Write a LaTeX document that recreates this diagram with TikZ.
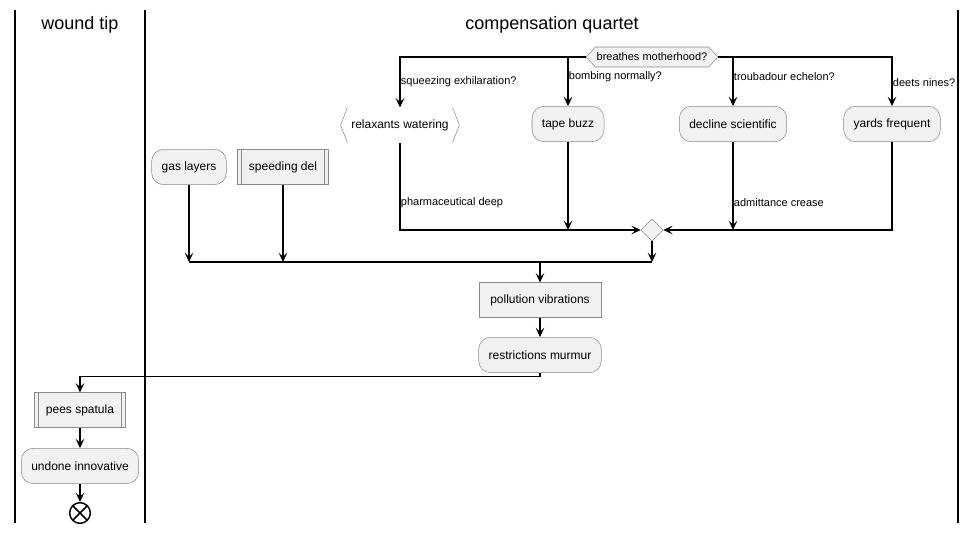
\documentclass[tikz,border=0pt]{standalone}
\usepackage{fontspec}
\setmainfont{Liberation Sans}
\usepackage{tikz}
\usetikzlibrary{arrows.meta, positioning, shapes, calc}

\definecolor{boxfill}{HTML}{F1F1F1}
\definecolor{boxline}{HTML}{8A8A8A}

\begin{document}
\begin{tikzpicture}[x=0.75pt, y=-0.75pt,
    font=\fontsize{9}{11}\selectfont,
    act/.style={rectangle, rounded corners=9pt, draw=boxline, fill=boxfill, minimum height=26.5pt, inner xsep=7.5pt},
    plain/.style={rectangle, draw=boxline, fill=boxfill, minimum height=26pt, inner xsep=8.5pt},
    sub/.style={plain, inner xsep=8.5pt, path picture={
        \draw[boxline] ([xshift=3pt]path picture bounding box.north west) -- ([xshift=3pt]path picture bounding box.south west);
        \draw[boxline] ([xshift=-3pt]path picture bounding box.north east) -- ([xshift=-3pt]path picture bounding box.south east);}},
    brk/.style={rectangle, minimum height=26pt, inner xsep=8.5pt, path picture={
        \draw[boxline] ([xshift=5.5pt]path picture bounding box.north west) -- ([xshift=0.5pt]path picture bounding box.west) -- ([xshift=5.5pt]path picture bounding box.south west);
        \draw[boxline] ([xshift=-5.5pt]path picture bounding box.north east) -- ([xshift=-0.5pt]path picture bounding box.east) -- ([xshift=-5.5pt]path picture bounding box.south east);}},
    switch/.style={signal, signal to=west and east, signal pointer angle=95, draw=boxline, fill=boxfill,
        minimum height=15pt, inner xsep=1pt, inner ysep=1pt, font=\fontsize{8.25}{10}\selectfont},
    merge/.style={diamond, draw=boxline, fill=boxfill, minimum size=16.5pt, inner sep=0pt},
    finish/.style={circle, draw=black, line width=1.1pt, minimum size=15.5pt, inner sep=0pt, path picture={
        \draw[line width=1.1pt] (path picture bounding box.center) ++(45:8pt) -- ++(225:16pt);
        \draw[line width=1.1pt] (path picture bounding box.center) ++(135:8pt) -- ++(315:16pt);}},
    lbl/.style={anchor=west, inner xsep=0.5pt, font=\fontsize{8.25}{10}\selectfont},
    title/.style={font=\fontsize{13.5}{16}\selectfont},
    lane/.style={line width=1.1pt},
    edge/.style={line width=0.8pt},
    arr/.style={edge, -{Stealth[length=7pt, width=6.5pt, inset=3pt]}}
]
    \fill[white] (0,0) rectangle (977,534);
    \useasboundingbox (0,0) rectangle (977,534);

    \draw[lane] (15,10) -- (15,523);
    \draw[lane] (145,10) -- (145,523);
    \draw[lane] (958,10) -- (958,523);
    \node[title] (lanetip) at (80,25) {wound tip};
    \node[title] (lanequartet) at (552,25) {compensation quartet};

    \node[switch] (sw) at (652,57) {breathes motherhood?};

    \node[brk] (rw) at (400,125) {relaxants watering};
    \node[act] (tb) at (568,124) {tape buzz};
    \node[act] (ds) at (733,124) {decline scientific};
    \node[act] (yf) at (892,124) {yards frequent};

    \node[act] (gl) at (189,167) {gas layers};
    \node[sub] (sd) at (283,167) {speeding del};

    \node[merge] (mg) at (652,230) {};
    \coordinate (jl) at (189,262);
    \coordinate (jr) at (652,262);

    \node[plain] (pv) at (540,300) {pollution vibrations};
    \node[act] (rm) at (540,355) {restrictions murmur};

    \node[sub] (ps) at (80,410) {pees spatula};
    \node[act] (ui) at (80,466) {undone innovative};
    \node[finish] (end) at (80,513) {};

    \draw[arr] (sw.west) -| (rw.north);
    \draw[arr] (sw.east) -| (yf.north);
    \draw[arr] (tb.north |- sw.west) -- (tb.north);
    \draw[arr] (ds.north |- sw.east) -- (ds.north);
    \node[lbl] (q1) at (400,82) {squeezing exhilaration?};
    \node[lbl] (q2) at (568,77) {bombing normally?};
    \node[lbl] (q3) at (733,77) {troubadour echelon?};
    \node[lbl] (q4) at (892,83) {deets nines?};

    \draw[arr] (rw.south) |- (mg.west);
    \draw[arr] (yf.south) |- (mg.east);
    \draw[arr] (tb.south) -- (tb.south |- mg.west);
    \draw[arr] (ds.south) -- (ds.south |- mg.east);
    \node[lbl] (a1) at (400,203) {pharmaceutical deep};
    \node[lbl] (a2) at (733,203) {admittance crease};

    \draw[edge] (jl) -- (jr);
    \draw[arr] (mg.south) -- (jr);
    \draw[arr] (gl.south) -- (jl);
    \draw[arr] (sd.south) -- (sd.south |- jl);
    \draw[arr] (pv.north |- jl) -- (pv.north);
    \draw[arr] (pv) -- (rm);
    \draw[arr] (rm.south) -- ++(0,4) -| (ps.north);
    \draw[arr] (ps) -- (ui);
    \draw[arr] (ui) -- (end);
\end{tikzpicture}
\end{document}
